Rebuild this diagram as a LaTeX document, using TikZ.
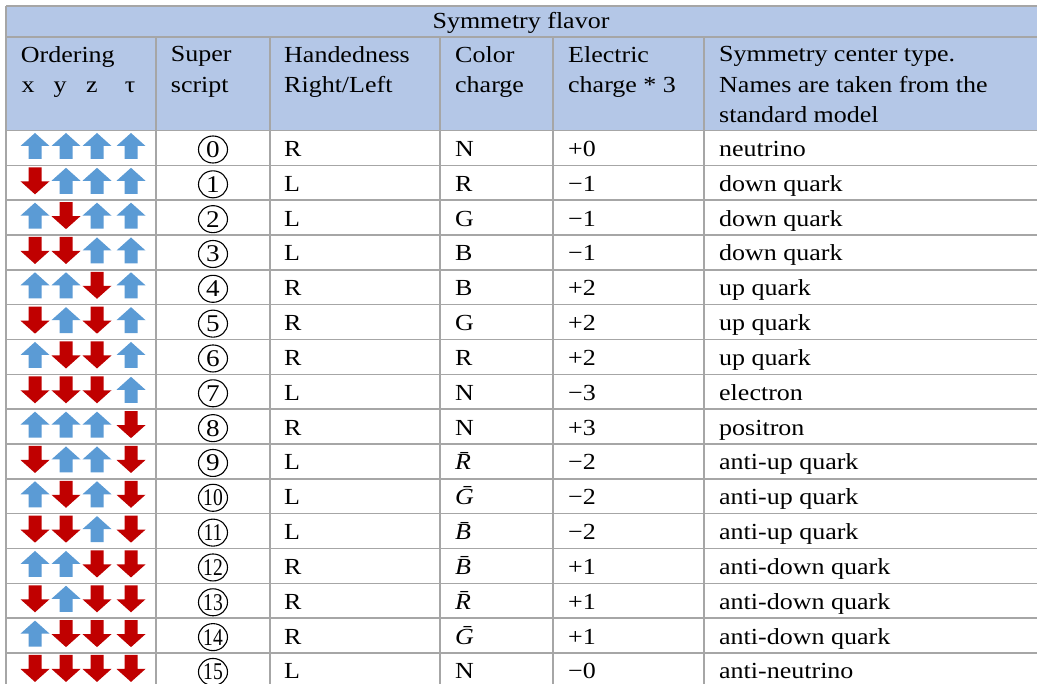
\documentclass[tikz,border=0pt]{standalone}
\usepackage{fontspec}
\setmainfont{Liberation Serif}[FakeStretch=1.13]
\usepackage{graphicx}
\usetikzlibrary{shapes.geometric}

\definecolor{headfill}{HTML}{B4C7E7}
\definecolor{gridgray}{HTML}{A6A6A6}
\definecolor{spinup}{HTML}{5B9BD5}
\definecolor{spindown}{HTML}{C00000}

\begin{document}
\begin{tikzpicture}[x=1pt,y=-1pt,
  cell/.style={anchor=base west,inner sep=0pt,font=\fontsize{23}{30.4}\selectfont},
  head/.style={anchor=north west,inner sep=0pt,align=left,font=\fontsize{23}{30.4}\selectfont},
  circnum/.style={ellipse,draw,line width=1.1pt,minimum width=29pt,minimum height=27pt,inner sep=0pt,font=\fontsize{24}{26}\selectfont},
  grid line/.style={draw=gridgray,line width=1.5pt},
  up arrow/.style={fill=spinup},
  down arrow/.style={fill=spindown}]
  \useasboundingbox (0,0) rectangle (1037,684);
  \clip (0,0) rectangle (1037,684);
  \fill[white] (0,0) rectangle (1037,684);
  \fill[headfill] (6,6) rectangle (1045,130.5);

  % grid
  \draw[grid line] (6,6) -- (1045,6);
  \draw[grid line] (6,37) -- (1045,37);
  \foreach \k in {0,...,16}
    \draw[grid line] (6,130.5+\k*34.83) -- (1045,130.5+\k*34.83);
  \draw[grid line] (6,6) -- (6,690);
  \foreach \gx in {156,270,440,553,704}
    \draw[grid line] (\gx,37) -- (\gx,690);

  % header
  \node[cell,anchor=base] (flavor) at (521,29) {Symmetry flavor};
  \node[head] (ordering) at (20.7,46.3) {Ordering};
  \node[cell,anchor=base] (axx) at (28,93) {x};
  \node[cell,anchor=base] (axy) at (60,93) {y};
  \node[cell,anchor=base] (axz) at (92,93) {z};
  \node[cell,anchor=base] (axt) at (130,93) {τ};
  \node[head] (super) at (170.7,46.3) {Super\\script};
  \node[head] (hand) at (284,46.3) {Handedness\\Right/Left};
  \node[head] (colorh) at (455,46.3) {Color\\charge};
  \node[head] (chargeh) at (568,46.3) {Electric\\charge * 3};
  \node[head] (typeh) at (719,46.3) {Symmetry center type.\\Names are taken from the\\standard model};

  % rows
  \foreach \hd/\cc/\ec/\nm [count=\k from 0] in {
      R/N/+0/neutrino, L/R/−1/down quark, L/G/−1/down quark, L/B/−1/down quark,
      R/B/+2/up quark, R/G/+2/up quark, R/R/+2/up quark, L/N/−3/electron,
      R/N/+3/positron, L/{\textit{\=R}}/−2/anti-up quark, L/{\textit{\=G}}/−2/anti-up quark,
      L/{\textit{\=B}}/−2/anti-up quark, R/{\textit{\=B}}/+1/anti-down quark,
      R/{\textit{\=R}}/+1/anti-down quark, R/{\textit{\=G}}/+1/anti-down quark,
      L/N/−0/anti-neutrino}{
    \pgfmathsetmacro\ry{130.5+\k*34.83}
    \node[circnum] (sup\k) at (213,\ry+19) {\ifnum\k<10 \k\else\scalebox{0.72}[1]{\k}\fi};
    \node[cell] (hand\k) at (284,\ry+26) {\hd};
    \node[cell] (color\k) at (455,\ry+26) {\cc};
    \node[cell] (charge\k) at (568,\ry+26) {\ec};
    \node[cell] (type\k) at (719,\ry+26) {\nm};
    \foreach \i/\cx in {0/35,1/66,2/97,3/131}{
      \pgfmathtruncatemacro\bit{mod(floor(\k/2^\i),2)}
      \ifnum\bit=1
        \fill[down arrow,shift={(\cx,\ry)}] (-6.5,2) -- (6.5,2) -- (6.5,16) -- (14.5,16) -- (0,29) -- (-14.5,16) -- (-6.5,16) -- cycle;
      \else
        \fill[up arrow,shift={(\cx,\ry)}] (0,2.5) -- (14.5,15.5) -- (6.5,15.5) -- (6.5,28.5) -- (-6.5,28.5) -- (-6.5,15.5) -- (-14.5,15.5) -- cycle;
      \fi}
  }
\end{tikzpicture}
\end{document}
